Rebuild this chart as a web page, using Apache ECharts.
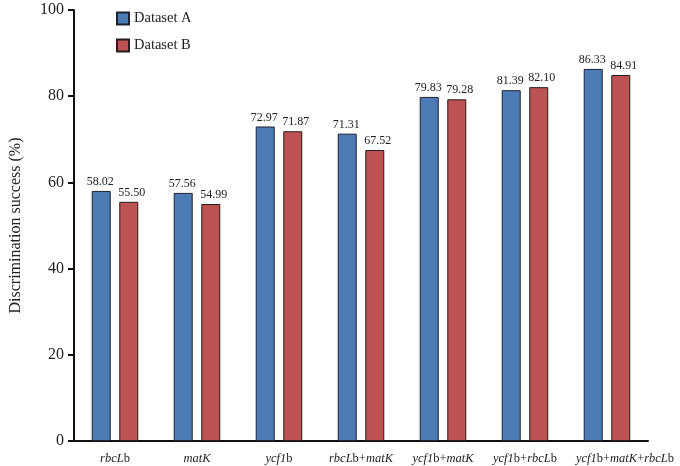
<!DOCTYPE html>
<html>
<head>
<meta charset="utf-8">
<script src="https://cdn.jsdelivr.net/npm/echarts@6/dist/echarts.min.js"></script>
<style>html,body{margin:0;padding:0;background:#fff}#c{width:680px;height:466px}</style>
</head>
<body>
<div id="c"></div>
<script>
const categories = ['rbcLb', 'matK', 'ycf1b', 'rbcLb+matK', 'ycf1b+matK', 'ycf1b+rbcLb', 'ycf1b+matK+rbcLb'];
const datasetA = [58.02, 57.56, 72.97, 71.31, 79.83, 81.39, 86.33];
const datasetB = [55.50, 54.99, 71.87, 67.52, 79.28, 82.10, 84.91];
const yTicks = [0, 20, 40, 60, 80, 100];

const serif = '"Liberation Serif", "Times New Roman", serif';
function richLabel(s, i) {
  const t = s.replace(/(rbcL|matK|ycf1)/g, '{i|$1}');
  return i === categories.length - 1 ? '{sp|}' + t : t;
}
const chart = echarts.init(document.getElementById('c'));
chart.setOption({
  animation: false,
  grid: { left: 73, right: 32, top: 10, bottom: 25 },
  legend: {
    orient: 'vertical', left: 111, top: 6, itemWidth: 12, itemHeight: 12, itemGap: 12,
    icon: 'rect',
    textStyle: { fontFamily: serif, fontSize: 14.5, color: '#222' },
    data: ['Dataset A', 'Dataset B']
  },
  xAxis: {
    type: 'category', data: categories,
    axisLine: { lineStyle: { color: '#111', width: 2 } },
    axisTick: { show: false },
    axisLabel: {
      margin: 11, fontFamily: serif, fontSize: 12.5, color: '#222', interval: 0,
      formatter: (v, i) => richLabel(v, i),
      rich: {
        i: { fontFamily: serif, fontSize: 12.5, fontStyle: 'italic', color: '#222' },
        sp: { width: 36 }
      }
    }
  },
  yAxis: {
    type: 'value', min: yTicks[0], max: yTicks[yTicks.length - 1], interval: 20,
    name: 'Discrimination success (%)', nameLocation: 'middle', nameGap: 50,
    nameTextStyle: { fontFamily: serif, fontSize: 16, color: '#222' },
    axisLine: { show: true, lineStyle: { color: '#111', width: 2 } },
    axisTick: { show: true, length: 6, lineStyle: { color: '#111', width: 2 } },
    axisLabel: { margin: 10, fontFamily: serif, fontSize: 16, color: '#222' },
    splitLine: { show: false }
  },
  series: [
    {
      name: 'Dataset A', type: 'bar', data: datasetA, barWidth: 19, barGap: '45%',
      itemStyle: { color: '#4D7BB6', borderColor: '#1c2233', borderWidth: 1 },
      label: { show: true, position: 'top', distance: 3, offset: [-1, 0], fontFamily: serif, fontSize: 12, color: '#222', formatter: p => p.value.toFixed(2) }
    },
    {
      name: 'Dataset B', type: 'bar', data: datasetB, barWidth: 19,
      itemStyle: { color: '#BD5253', borderColor: '#2a1c1c', borderWidth: 1 },
      label: { show: true, position: 'top', distance: 3, offset: [3, 0], fontFamily: serif, fontSize: 12, color: '#222', formatter: p => p.value.toFixed(2) }
    }
  ]
});
</script>
</body>
</html>
